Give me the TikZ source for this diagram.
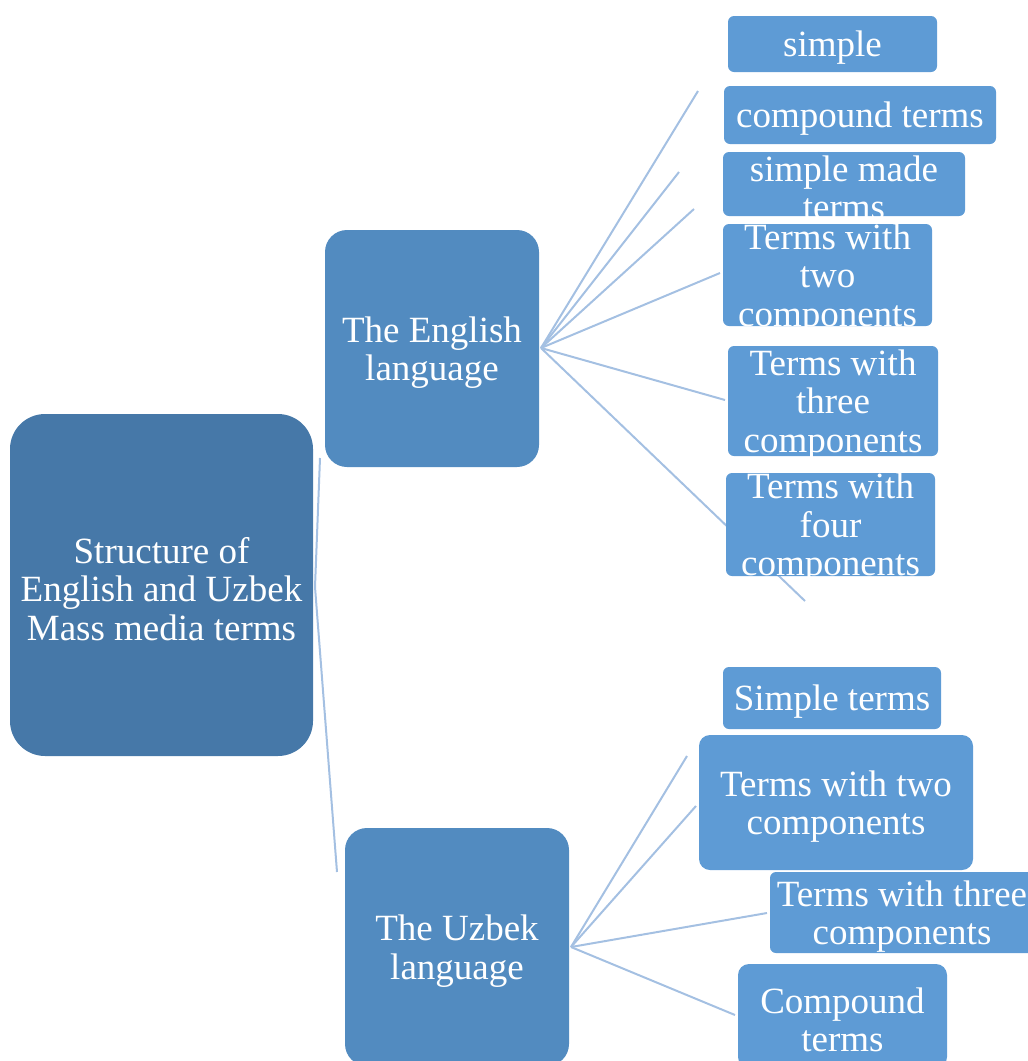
\documentclass[tikz,border=0pt]{standalone}
\usepackage{fontspec}
\setmainfont{Liberation Serif}
\definecolor{rootc}{HTML}{4678A8}
\definecolor{midc}{HTML}{528BC0}
\definecolor{leafc}{HTML}{5E9BD5}
\definecolor{linec}{HTML}{A4C0E2}
\tikzset{
  boxbase/.style={draw=none, inner sep=0pt, rectangle},
  rootbox/.style={boxbase, fill=rootc, rounded corners=35pt},
  midbox/.style={boxbase, fill=midc, rounded corners=22pt},
  leafbox/.style={boxbase, fill=leafc, rounded corners=6pt},
  bigleaf/.style={boxbase, fill=leafc, rounded corners=11pt},
  txt/.style={text=white, align=center, inner sep=0pt, yshift=-4pt, font=\fontsize{37}{38.5}\selectfont},
  conn/.style={draw=linec, line width=2pt}
}
\begin{document}
\begin{tikzpicture}[x=1pt,y=-1pt]
\useasboundingbox (0,0) rectangle (1028,1061);
% anchor points
\coordinate (rootout) at (315,587);
\coordinate (enout) at (541,348);
\coordinate (uzout) at (571,947);
\coordinate (ren) at (320,458);
\coordinate (ruz) at (337,872);
\coordinate (p1) at (698,91);
\coordinate (p2) at (679,172);
\coordinate (p3) at (694,209);
\coordinate (p4) at (720,273);
\coordinate (p5) at (725,400);
\coordinate (p6) at (805,601);
\coordinate (q1) at (687,756);
\coordinate (q2) at (696,806);
\coordinate (q3) at (767,913);
\coordinate (q4) at (735,1015);
% connectors (behind boxes)
\draw[conn] (rootout) -- (ren);
\draw[conn] (rootout) -- (ruz);
\foreach \p in {p1,p2,p3,p4,p5,p6} \draw[conn] (enout) -- (\p);
\foreach \q in {q1,q2,q3,q4} \draw[conn] (uzout) -- (\q);
% boxes
\node[rootbox, minimum width=303pt, minimum height=342pt] (root) at (161.5,585) {};
\node[midbox, minimum width=214pt, minimum height=237pt] (en) at (432,348.5) {};
\node[midbox, minimum width=224pt, minimum height=238pt] (uz) at (457,947) {};
\node[leafbox, minimum width=209pt, minimum height=56pt] (e1) at (832.5,44) {};
\node[leafbox, minimum width=272pt, minimum height=58pt] (e2) at (860,115) {};
\node[leafbox, minimum width=242pt, minimum height=64pt] (e3) at (844,184) {};
\node[leafbox, minimum width=209pt, minimum height=102pt] (e4) at (827.5,275) {};
\node[leafbox, minimum width=210pt, minimum height=110pt] (e5) at (833,401) {};
\node[leafbox, minimum width=209pt, minimum height=103pt] (e6) at (830.5,524.5) {};
\node[leafbox, minimum width=218pt, minimum height=62pt] (u1) at (832,698) {};
\node[bigleaf, minimum width=274pt, minimum height=135pt] (u2) at (836,802.5) {};
\node[leafbox, minimum width=264pt, minimum height=81pt] (u3) at (902,912.5) {};
\node[bigleaf, minimum width=209pt, minimum height=104pt] (u4) at (842.5,1016) {};
% texts
\node[txt] (roott) at (root) {Structure of\\English and Uzbek\\Mass media terms};
\node[txt] (ent) at (en) {The English\\language};
\node[txt] (uzt) at (457,947) {The Uzbek\\language};
\node[txt] (e1t) at (e1) {simple};
\node[txt] (e2t) at (e2) {compound terms};
\node[txt] (e3t) at (e3) {simple made\\terms};
\node[txt] (e4t) at (e4) {Terms with\\two\\components};
\node[txt] (e5t) at (e5) {Terms with\\three\\components};
\node[txt] (e6t) at (e6) {Terms with\\four\\components};
\node[txt] (u1t) at (u1) {Simple terms};
\node[txt] (u2t) at (u2) {Terms with two\\components};
\node[txt] (u3t) at (u3) {Terms with three\\components};
\node[txt] (u4t) at (u4) {Compound\\terms};
\end{tikzpicture}
\end{document}
